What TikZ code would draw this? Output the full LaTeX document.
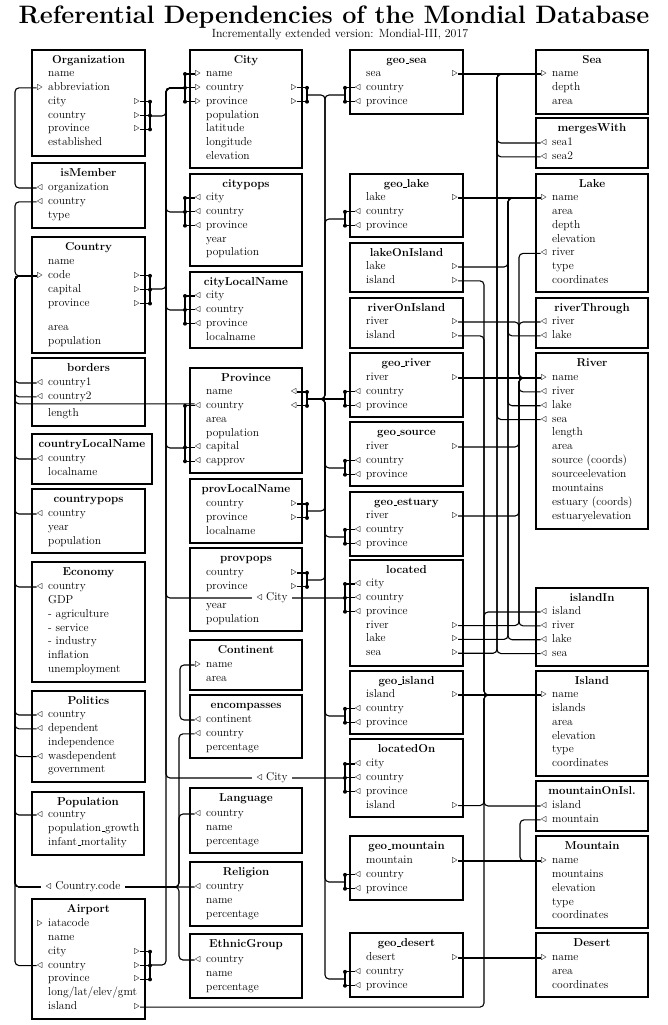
\documentclass[tikz,border=0pt]{standalone}
\usepackage{tikz}
\usetikzlibrary{positioning}

% short underscore, as in the printed names
\newcommand{\us}{\leavevmode\kern.06em\vbox{\hrule width.3em}}
% table: frame and bold title
\newcommand{\dbtable}[6]{%
  \draw[tblframe] (#2,#4) rectangle (#3,#5);
  \node[ttl] (#1) at ({(#2+#3)/2},#4+11) {#6};
}
% rows of a table
\newcommand{\dbrows}[5]{%
  \foreach \t [count=\i from #4] in {#5}
    \node[tblrow] (#1-\i) at (#2+16,{#3+13.85*(\i-#4)}) {\t};
}
% key marks
\newcommand{\inL}[1]{\node[mk,anchor=east,xshift=-5pt] (#1l) at (#1.west) {$\triangleright$};}
\newcommand{\outL}[1]{\node[mk,anchor=east,xshift=-5pt] (#1l) at (#1.west) {$\triangleleft$};}
\newcommand{\outR}[2]{\node[mk,anchor=east,xshift=-5pt] (#1r) at (#1 -| #2) {$\triangleright$};}
\newcommand{\inR}[2]{\node[mk,anchor=east,xshift=-5pt] (#1r) at (#1 -| #2) {$\triangleleft$};}
% composite keys
\newcommand{\busR}[4]{%
  \coordinate (#1) at (#2,#3);
  \foreach \rw in {#4} {
    \draw[busline] (\rw r.east) -- (\rw r.east -| #1) -- (#1);
    \fill (\rw r.east -| #1) circle (2pt);
  }
}
\newcommand{\busL}[4]{%
  \coordinate (#1) at (#2,#3);
  \foreach \rw in {#4} {
    \draw[busline] (\rw l.west) -- (\rw l.west -| #1) -- (#1);
    \fill (\rw l.west -| #1) circle (2pt);
  }
}
% reference line along a vertical rail
\newcommand{\link}[3]{\draw[fkline] (#1) -- (#1 -| #2) -- (#3 -| #2) -- (#3);}

\begin{document}
\begin{tikzpicture}[x=1pt,y=-1pt,
  font=\fontsize{11.5}{13.8}\selectfont,
  tblframe/.style={line width=1.3pt},
  ttl/.style={font=\fontsize{11.5}{13.8}\selectfont\bfseries,inner sep=0pt,text height=8pt,text depth=3pt},
  tblrow/.style={anchor=west,inner sep=0pt,text height=8pt,text depth=3pt},
  mk/.style={inner sep=0pt,text height=8pt,text depth=3pt},
  busline/.style={line width=1.1pt},
  fkline/.style={line width=1.1pt,rounded corners=4pt},
  lbl/.style={fill=white,inner xsep=5pt,inner ysep=1pt}]
\useasboundingbox (0,0) rectangle (668,1025);

% Heading
\node[font=\fontsize{25.2}{29}\selectfont\bfseries] (head) at (334,17) {Referential Dependencies of the Mondial Database};
\node[font=\fontsize{11.9}{13}\selectfont] (subhead) at (340,35) {Incrementally extended version: Mondial-III, 2017};

% rails and edges
\coordinate (c1R) at (145,0);
\coordinate (c2R) at (302,0);
\coordinate (c3R) at (463,0);
\coordinate (orgline) at (15,0);
\coordinate (ctryline) at (15,0);
\coordinate (cityline) at (166,0);
\coordinate (contline) at (180,0);
\coordinate (codeline) at (179,0);
\coordinate (provline) at (325,0);
\coordinate (islandline) at (484,0);
\coordinate (sealine) at (497,0);
\coordinate (lakeline) at (508,0);
\coordinate (riverline) at (519,0);
\coordinate (mountline) at (520,0);
\coordinate (codelabel) at (83,887);

% Column 1
\dbtable{org}{32}{145}{50}{156}{Organization}
\dbrows{org}{32}{74}{1}{name,abbreviation,city,country,province,established}
\dbtable{ismem}{32}{145}{163}{228}{isMember}
\dbrows{ismem}{32}{188}{1}{organization,country,type}
\dbtable{ctry}{32}{145}{237}{353}{Country}
\dbrows{ctry}{32}{262}{1}{name,code,capital,province}
\dbrows{ctry}{32}{328}{5}{area,population}
\dbtable{bord}{32}{145}{358}{426}{borders}
\dbrows{bord}{32}{383}{1}{country1,country2}
\dbrows{bord}{32}{414}{3}{length}
\dbtable{ctryln}{32}{152}{434}{484}{countryLocalName}
\dbrows{ctryln}{32}{459}{1}{country,localname}
\dbtable{ctrypops}{32}{145}{489}{553}{countrypops}
\dbrows{ctrypops}{32}{514}{1}{country,year,population}
\dbtable{eco}{32}{145}{562}{682}{Economy}
\dbrows{eco}{32}{587}{1}{country,GDP,- agriculture,- service,- industry,inflation,unemployment}
\dbtable{pol}{32}{145}{691}{782}{Politics}
\dbrows{pol}{32}{715}{1}{country,dependent,independence,wasdependent,government}
\dbtable{popu}{32}{144}{792}{855}{Population}
\dbrows{popu}{32}{815}{1}{country,population\us growth,infant\us mortality}
\dbtable{airp}{32}{145}{899}{1019}{Airport}
\dbrows{airp}{32}{924}{1}{iatacode,name,city,country,province,long/lat/elev/gmt,island}

% Column 2
\dbtable{city}{190}{302}{50}{168}{City}
\dbrows{city}{190}{74}{1}{name,country,province,population,latitude,longitude,elevation}
\dbtable{cpops}{190}{302}{174}{266}{citypops}
\dbrows{cpops}{190}{198}{1}{city,country,province,year,population}
\dbtable{cityln}{190}{302}{272}{348}{cityLocalName}
\dbrows{cityln}{190}{296}{1}{city,country,province,localname}
\dbtable{prov}{190}{302}{368}{473}{Province}
\dbrows{prov}{190}{392}{1}{name,country,area,population,capital,capprov}
\dbtable{provln}{190}{302}{479}{543}{provLocalName}
\dbrows{provln}{190}{504}{1}{country,province,localname}
\dbtable{provpops}{190}{302}{548}{631}{provpops}
\dbrows{provpops}{190}{573}{1}{country,province}
\dbrows{provpops}{190}{606}{3}{year,population}
\dbtable{cont}{190}{302}{640}{690}{Continent}
\dbrows{cont}{190}{665}{1}{name,area}
\dbtable{encomp}{190}{302}{695}{758}{encompasses}
\dbrows{encomp}{190}{720}{1}{continent,country,percentage}
\dbtable{lang}{190}{302}{788}{853}{Language}
\dbrows{lang}{190}{814}{1}{country,name,percentage}
\dbtable{relig}{190}{302}{862}{926}{Religion}
\dbrows{relig}{190}{887}{1}{country,name,percentage}
\dbtable{ethn}{190}{302}{934}{998}{EthnicGroup}
\dbrows{ethn}{190}{960}{1}{country,name,percentage}

% Column 3
\dbtable{gsea}{350}{463}{50}{114}{geo\us sea}
\dbrows{gsea}{350}{74}{1}{sea,country,province}
\dbtable{glake}{350}{463}{174}{237}{geo\us lake}
\dbrows{glake}{350}{198}{1}{lake,country,province}
\dbtable{lakeoi}{350}{463}{243}{292}{lakeOnIsland}
\dbrows{lakeoi}{350}{267}{1}{lake,island}
\dbtable{riveroi}{350}{463}{298}{348}{riverOnIsland}
\dbrows{riveroi}{350}{322}{1}{river,island}
\dbtable{griver}{350}{463}{353}{417}{geo\us river}
\dbrows{griver}{350}{378}{1}{river,country,province}
\dbtable{gsource}{350}{463}{422}{486}{geo\us source}
\dbrows{gsource}{350}{447}{1}{river,country,province}
\dbtable{gestu}{350}{463}{492}{556}{geo\us estuary}
\dbrows{gestu}{350}{516}{1}{river,country,province}
\dbtable{loc}{350}{463}{560}{666}{located}
\dbrows{loc}{350}{584}{1}{city,country,province,river,lake,sea}
\dbtable{gisland}{350}{463}{671}{734}{geo\us island}
\dbrows{gisland}{350}{695}{1}{island,country,province}
\dbtable{locon}{350}{463}{739}{817}{locatedOn}
\dbrows{locon}{350}{764}{1}{city,country,province,island}
\dbtable{gmount}{350}{463}{836}{900}{geo\us mountain}
\dbrows{gmount}{350}{861}{1}{mountain,country,province}
\dbtable{gdesert}{350}{463}{933}{997}{geo\us desert}
\dbrows{gdesert}{350}{958}{1}{desert,country,province}

% Column 4
\dbtable{sea}{536}{648}{50}{114}{Sea}
\dbrows{sea}{536}{74}{1}{name,depth,area}
\dbtable{merges}{536}{648}{118}{168}{mergesWith}
\dbrows{merges}{536}{143}{1}{sea1,sea2}
\dbtable{lake}{536}{648}{174}{292}{Lake}
\dbrows{lake}{536}{198}{1}{name,area,depth,elevation,river,type,coordinates}
\dbtable{rthrough}{536}{648}{298}{348}{riverThrough}
\dbrows{rthrough}{536}{322}{1}{river,lake}
\dbtable{river}{536}{648}{353}{529}{River}
\dbrows{river}{536}{378}{1}{name,river,lake,sea,length,area,source (coords),sourceelevation,mountains,estuary (coords),estuaryelevation}
\dbtable{islin}{536}{648}{588}{666}{islandIn}
\dbrows{islin}{536}{612}{1}{island,river,lake,sea}
\dbtable{island}{536}{648}{671}{776}{Island}
\dbrows{island}{536}{695}{1}{name,islands,area,elevation,type,coordinates}
\dbtable{mtoi}{536}{648}{781}{831}{mountainOnIsl.}
\dbrows{mtoi}{536}{806}{1}{island,mountain}
\dbtable{mount}{536}{648}{836}{928}{Mountain}
\dbrows{mount}{536}{861}{1}{name,mountains,elevation,type,coordinates}
\dbtable{desert}{536}{648}{933}{997}{Desert}
\dbrows{desert}{536}{958}{1}{name,area,coordinates}

% Key marks
\foreach \nm in {org-2,ctry-2,airp-1,city-1,city-2,city-3,cont-1,sea-1,lake-1,river-1,island-1,mount-1,desert-1} \inL{\nm};
\foreach \nm in {ismem-1,ismem-2,bord-1,bord-2,ctryln-1,ctrypops-1,eco-1,pol-1,pol-2,pol-4,popu-1,airp-4,
  cpops-1,cpops-2,cpops-3,cityln-1,cityln-2,cityln-3,prov-2,prov-5,prov-6,encomp-1,encomp-2,lang-1,relig-1,ethn-1,
  gsea-2,gsea-3,glake-2,glake-3,griver-2,griver-3,gsource-2,gsource-3,gestu-2,gestu-3,loc-1,loc-2,loc-3,
  gisland-2,gisland-3,locon-1,locon-2,locon-3,gmount-2,gmount-3,gdesert-2,gdesert-3,
  merges-1,merges-2,lake-5,rthrough-1,rthrough-2,river-2,river-3,river-4,islin-1,islin-2,islin-3,islin-4,mtoi-1,mtoi-2} \outL{\nm};
\foreach \nm in {org-3,org-4,org-5,ctry-2,ctry-3,ctry-4,airp-3,airp-4,airp-5,airp-7} \outR{\nm}{c1R};
\foreach \nm in {city-2,city-3,provln-1,provln-2,provpops-1,provpops-2} \outR{\nm}{c2R};
\foreach \nm in {gsea-1,glake-1,lakeoi-1,lakeoi-2,riveroi-1,riveroi-2,griver-1,gsource-1,gestu-1,loc-4,loc-5,loc-6,gisland-1,locon-4,gmount-1,gdesert-1} \outR{\nm}{c3R};
\inR{prov-1}{c2R}
\inR{prov-2}{c2R}
\coordinate (provctry) at ([yshift=2pt]prov-2l.west);

% Composite keys
\busR{orgfk}{150}{116}{org-3,org-4,org-5}
\busR{ctryfk}{150}{289}{ctry-2,ctry-3,ctry-4}
\busR{airpfk}{150}{965}{airp-3,airp-4,airp-5}
\busR{cityfk}{307}{95}{city-2,city-3}
\busR{provkey}{307}{399}{prov-1,prov-2}
\busR{provlnfk}{307}{511}{provln-1,provln-2}
\busR{provpopsfk}{307}{580}{provpops-1,provpops-2}
\busL{citykey}{185}{88}{city-1,city-2,city-3}
\busL{cpopsfk}{185}{212}{cpops-1,cpops-2,cpops-3}
\busL{citylnfk}{185}{310}{cityln-1,cityln-2,cityln-3}
\busL{provfk}{185}{448}{prov-2,prov-5,prov-6}
\busL{gseafk}{345}{95}{gsea-2,gsea-3}
\busL{glakefk}{345}{219}{glake-2,glake-3}
\busL{griverfk}{345}{399}{griver-2,griver-3}
\busL{gsourcefk}{345}{468}{gsource-2,gsource-3}
\busL{gestufk}{345}{537}{gestu-2,gestu-3}
\busL{locfk}{345}{598}{loc-1,loc-2,loc-3}
\busL{gislandfk}{345}{716}{gisland-2,gisland-3}
\busL{loconfk}{345}{778}{locon-1,locon-2,locon-3}
\busL{gmountfk}{345}{882}{gmount-2,gmount-3}
\busL{gdesertfk}{345}{979}{gdesert-2,gdesert-3}

% Organization and Country
\link{ismem-1l.west}{orgline}{org-2l.west}
\foreach \nm in {ismem-2,bord-1,bord-2,ctryln-1,ctrypops-1,eco-1,pol-1,pol-2,pol-4,popu-1,airp-4}
  \link{\nm l.west}{ctryline}{ctry-2l.west};
\link{provctry}{ctryline}{ctry-2l.west}
\foreach \nm in {encomp-2,lang-1,ethn-1}
  \draw[fkline] (\nm l.west) -- (\nm l.west -| codeline) -- (codelabel -| codeline)
    -- (codelabel -| ctryline) -- (ctry-2l.west -| ctryline) -- (ctry-2l.west);
\draw[fkline] (relig-1l.west) -- (codelabel -| ctryline) -- (ctry-2l.west -| ctryline) -- (ctry-2l.west);
\link{encomp-1l.west}{contline}{cont-1l.west}

% City and Province
\foreach \nm in {orgfk,ctryfk,cpopsfk,citylnfk,provfk,locfk,loconfk,airpfk}
  \link{\nm}{cityline}{citykey};
\foreach \nm in {cityfk,gseafk,glakefk,gsourcefk,provlnfk,gestufk,provpopsfk,gislandfk,gmountfk,gdesertfk}
  \link{\nm}{provline}{provkey};
\draw[fkline] (griverfk) -- (provkey);

% Sea, Lake, River
\draw[fkline] (gsea-1r.east) -- (sea-1l.west);
\foreach \nm in {merges-1l.west,merges-2l.west,river-4l.west,loc-6r.east,islin-4l.west}
  \link{\nm}{sealine}{sea-1l.west};
\draw[fkline] (glake-1r.east) -- (lake-1l.west);
\foreach \nm in {lakeoi-1r.east,rthrough-2l.west,river-3l.west,loc-5r.east,islin-3l.west}
  \link{\nm}{lakeline}{lake-1l.west};
\draw[fkline] (griver-1r.east) -- (river-1l.west);
\foreach \nm in {lake-5l.west,rthrough-1l.west,riveroi-1r.east,river-2l.west,gsource-1r.east,gestu-1r.east,loc-4r.east,islin-2l.west}
  \link{\nm}{riverline}{river-1l.west};

% Island, Mountain, Desert
\draw[fkline] (gisland-1r.east) -- (island-1l.west);
\foreach \nm in {lakeoi-2r.east,riveroi-2r.east,islin-1l.west,locon-4r.east,mtoi-1l.west,airp-7r.east}
  \link{\nm}{islandline}{island-1l.west};
\draw[fkline] (gmount-1r.east) -- (mount-1l.west);
\link{mtoi-2l.west}{mountline}{mount-1l.west}
\draw[fkline] (gdesert-1r.east) -- (desert-1l.west);

% Labels on lines
\node[lbl] (citylbl1) at (272,598) {$\triangleleft$ City};
\node[lbl] (citylbl2) at (272,778) {$\triangleleft$ City};
\node[lbl] (codelbl) at (codelabel) {$\triangleleft$ Country.code};
\end{tikzpicture}
\end{document}
